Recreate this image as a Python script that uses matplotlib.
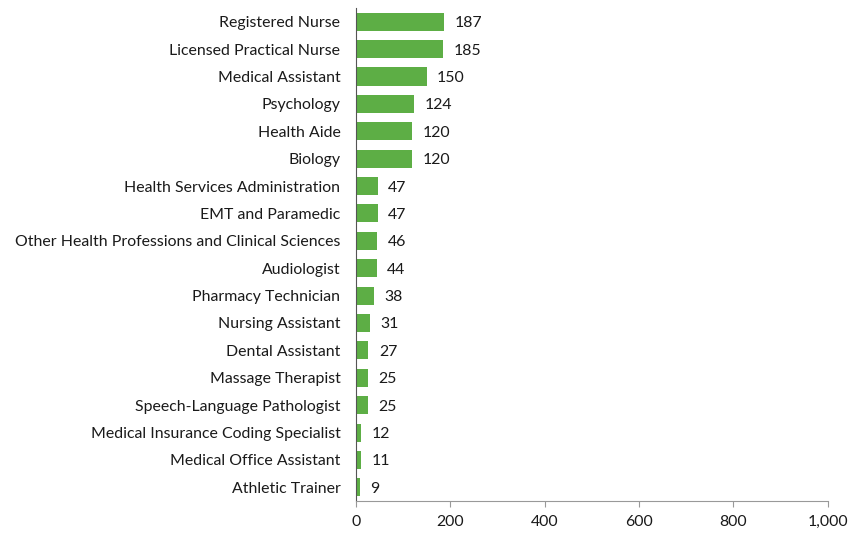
import matplotlib.pyplot as plt
from matplotlib.ticker import FuncFormatter

# DATOS
categories = ['Registered Nurse', 'Licensed Practical Nurse', 'Medical Assistant', 'Psychology',
              'Health Aide', 'Biology', 'Health Services Administration', 'EMT and Paramedic',
              'Other Health Professions and Clinical Sciences', 'Audiologist', 'Pharmacy Technician',
              'Nursing Assistant', 'Dental Assistant', 'Massage Therapist', 'Speech-Language Pathologist',
              'Medical Insurance Coding Specialist', 'Medical Office Assistant', 'Athletic Trainer']
values = [187, 185, 150, 124, 120, 120, 47, 47, 46, 44, 38, 31, 27, 25, 25, 12, 11, 9]
x_ticks = [0, 200, 400, 600, 800, 1000]

plt.rcParams['font.family'] = ['Lato', 'DejaVu Sans']
fs = 11.4

fig = plt.figure(figsize=(8.49, 5.33), dpi=100)
ax = fig.add_axes([0.419, 0.060, 0.556, 0.925])

pos = list(range(len(categories)))[::-1]
bars = ax.barh(pos, values, height=0.66, color='#5DAE45')

for b, v in zip(bars, values):
    ax.text(b.get_width() + 22, b.get_y() + b.get_height() / 2, str(v),
            va='center_baseline', ha='left', fontsize=fs, color='#1a1a1a')

ax.set_yticks(pos)
ax.set_yticklabels(categories, fontsize=fs, color='#1a1a1a', va='center_baseline')
ax.set_ylim(-0.5, len(categories) - 0.5)
ax.set_xlim(0, 1000)
ax.set_xticks(x_ticks)
ax.xaxis.set_major_formatter(FuncFormatter(lambda x, p: f'{int(x):,}'))
ax.tick_params(axis='x', labelsize=fs, colors='#1a1a1a', length=4, color='#999999', pad=6)
ax.tick_params(axis='y', length=0, pad=11)

for s in ['top', 'right']:
    ax.spines[s].set_visible(False)
ax.spines['left'].set_color('#555555')
ax.spines['bottom'].set_color('#999999')

plt.savefig('out.png')
